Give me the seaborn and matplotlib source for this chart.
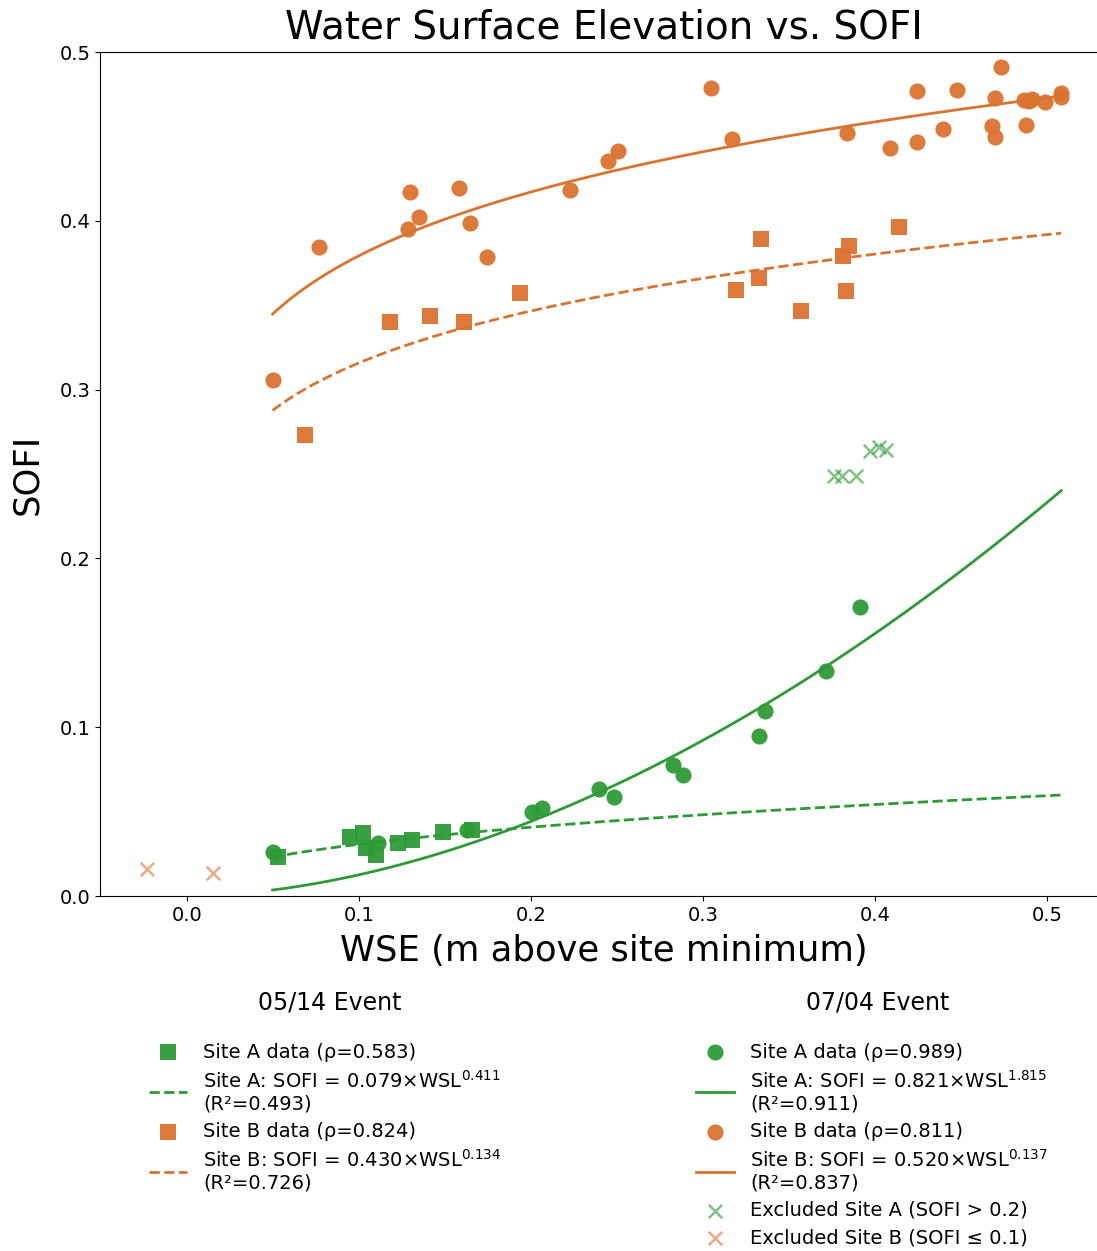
import numpy as np
import pandas as pd
import seaborn as sns
import matplotlib.pyplot as plt

GREEN = '#2e9a35'
ORANGE = '#da7230'

# 05/14 event
may_a_wse = [0.0531, 0.0948, 0.1025, 0.1039, 0.1097, 0.1225, 0.1306, 0.1490, 0.1655]
may_a_sofi = [0.0233, 0.0351, 0.0371, 0.0282, 0.0243, 0.0316, 0.0332, 0.0381, 0.0391]
may_b_wse = [0.0686, 0.1178, 0.1413, 0.1610, 0.1936, 0.3188, 0.3324, 0.3333, 0.3570,
             0.3810, 0.3831, 0.3849, 0.4137]
may_b_sofi = [0.2731, 0.3402, 0.3436, 0.3402, 0.3570, 0.3588, 0.3659, 0.3892, 0.3463,
              0.3791, 0.3586, 0.3853, 0.3963]

# 07/04 event
jul_a_wse = [0.0498, 0.1112, 0.1626, 0.2004, 0.2062, 0.2392, 0.2484, 0.2824, 0.2885,
             0.3324, 0.3357, 0.3714, 0.3910]
jul_a_sofi = [0.0262, 0.0316, 0.0391, 0.0496, 0.0519, 0.0634, 0.0585, 0.0776, 0.0715,
              0.0948, 0.1098, 0.1335, 0.1710]
jul_b_wse = [0.0502, 0.0767, 0.1287, 0.1295, 0.1350, 0.1580, 0.1645, 0.1744, 0.2223,
             0.2448, 0.2502, 0.3047, 0.3170, 0.3833, 0.4083, 0.4244, 0.4244, 0.4391,
             0.4477, 0.4680, 0.4698, 0.4698, 0.4733, 0.4862, 0.4874, 0.4891, 0.4910,
             0.4986, 0.5080, 0.5080]
jul_b_sofi = [0.3057, 0.3847, 0.3950, 0.4169, 0.4024, 0.4196, 0.3985, 0.3784, 0.4182,
              0.4354, 0.4415, 0.4787, 0.4485, 0.4518, 0.4430, 0.4770, 0.4465, 0.4544,
              0.4773, 0.4560, 0.4727, 0.4494, 0.4911, 0.4716, 0.4565, 0.4708, 0.4720,
              0.4702, 0.4755, 0.4731]

# excluded points
excl_a_wse = [0.3762, 0.3808, 0.3890, 0.3971, 0.4023, 0.4064]
excl_a_sofi = [0.2488, 0.2488, 0.2488, 0.2636, 0.2660, 0.2642]
excl_b_wse = [-0.0234, 0.0153]
excl_b_sofi = [0.0158, 0.0138]

# power-law fits  SOFI = a * WSL^b
fit_coef = {
  'may_a': (0.079, 0.411),
  'may_b': (0.430, 0.134),
  'jul_a': (0.821, 1.815),
  'jul_b': (0.520, 0.137),
}

labels = {
  'may_a_data': 'Site A data (ρ=0.583)',
  'may_a_fit': 'Site A: SOFI = 0.079×WSL$^{0.411}$\n(R²=0.493)',
  'may_b_data': 'Site B data (ρ=0.824)',
  'may_b_fit': 'Site B: SOFI = 0.430×WSL$^{0.134}$\n(R²=0.726)',
  'jul_a_data': 'Site A data (ρ=0.989)',
  'jul_a_fit': 'Site A: SOFI = 0.821×WSL$^{1.815}$\n(R²=0.911)',
  'jul_b_data': 'Site B data (ρ=0.811)',
  'jul_b_fit': 'Site B: SOFI = 0.520×WSL$^{0.137}$\n(R²=0.837)',
  'excl_a': 'Excluded Site A (SOFI > 0.2)',
  'excl_b': 'Excluded Site B (SOFI ≤ 0.1)',
}

fig = plt.figure(figsize=(10.97, 12.51), dpi=100)
ax = fig.add_axes([100/1097, (1251-896)/1251, (1107-100)/1097, 844/1251])

all_wse = may_a_wse + may_b_wse + jul_a_wse + jul_b_wse
xgrid = np.linspace(min(all_wse), max(all_wse), 200)

def fit_frame(key):
  a, b = fit_coef[key]
  return pd.DataFrame({'wse': xgrid, 'sofi': a * xgrid ** b})

# fit curves (drawn below the markers)
sns.lineplot(data=fit_frame('may_a'), x='wse', y='sofi', color=GREEN, lw=2, ls='--',
             label=labels['may_a_fit'], ax=ax)
sns.lineplot(data=fit_frame('may_b'), x='wse', y='sofi', color=ORANGE, lw=2, ls='--',
             label=labels['may_b_fit'], ax=ax)
sns.lineplot(data=fit_frame('jul_a'), x='wse', y='sofi', color=GREEN, lw=2,
             label=labels['jul_a_fit'], ax=ax)
sns.lineplot(data=fit_frame('jul_b'), x='wse', y='sofi', color=ORANGE, lw=2,
             label=labels['jul_b_fit'], ax=ax)

sns.scatterplot(x=may_a_wse, y=may_a_sofi, marker='s', s=135, color=GREEN, alpha=0.95,
                linewidth=0, label=labels['may_a_data'], ax=ax)
sns.scatterplot(x=may_b_wse, y=may_b_sofi, marker='s', s=135, color=ORANGE, alpha=0.95,
                linewidth=0, label=labels['may_b_data'], ax=ax)
sns.scatterplot(x=jul_a_wse, y=jul_a_sofi, marker='o', s=135, color=GREEN, alpha=0.95,
                linewidth=0, label=labels['jul_a_data'], ax=ax)
sns.scatterplot(x=jul_b_wse, y=jul_b_sofi, marker='o', s=135, color=ORANGE, alpha=0.95,
                linewidth=0, label=labels['jul_b_data'], ax=ax)
sns.scatterplot(x=excl_a_wse, y=excl_a_sofi, marker='x', s=95, color=GREEN, alpha=0.6,
                linewidth=1.8, label=labels['excl_a'], ax=ax)
sns.scatterplot(x=excl_b_wse, y=excl_b_sofi, marker='x', s=95, color=ORANGE, alpha=0.6,
                linewidth=1.8, label=labels['excl_b'], ax=ax)

handles, labs = ax.get_legend_handles_labels()
by_label = dict(zip(labs, handles))
if ax.get_legend() is not None:
  ax.get_legend().remove()

ax.set_xlim(-0.0505, 0.5346)
ax.set_ylim(0, 0.5)
ax.set_xticks([0.0, 0.1, 0.2, 0.3, 0.4, 0.5])
ax.set_yticks([0.0, 0.1, 0.2, 0.3, 0.4, 0.5])
ax.spines['right'].set_visible(False)
ax.tick_params(labelsize=14)
ax.set_title('Water Surface Elevation vs. SOFI', fontsize=28, pad=10)
ax.set_xlabel('WSE (m above site minimum)', fontsize=25.5, labelpad=7)
ax.set_ylabel('SOFI', fontsize=25.5, labelpad=11)

left_keys = ['may_a_data', 'may_a_fit', 'may_b_data', 'may_b_fit']
right_keys = ['jul_a_data', 'jul_a_fit', 'jul_b_data', 'jul_b_fit', 'excl_a', 'excl_b']

for keys, x0, title, tx in [(left_keys, 131, '05/14 Event', 330),
                            (right_keys, 678, '07/04 Event', 878)]:
  leg = fig.legend([by_label[labels[k]] for k in keys], [labels[k] for k in keys],
                   loc='upper left', bbox_to_anchor=(x0/1097, 1-1025/1251),
                   frameon=False, fontsize=14, handlelength=2.0, labelspacing=0.42)
  fig.text(tx/1097, 1-1002/1251, title, fontsize=17, ha='center', va='center')

fig.savefig('out.png', dpi=100)
